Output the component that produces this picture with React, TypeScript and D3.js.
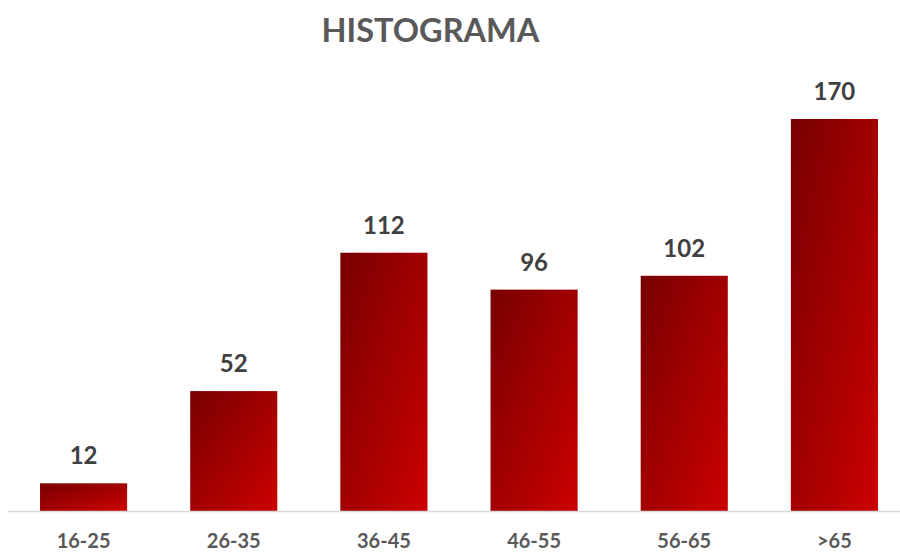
import React from "react";
import * as d3 from "d3";

const categories = ["16-25", "26-35", "36-45", "46-55", "56-65", ">65"];
const values = [12, 52, 112, 96, 102, 170];
const title = "HISTOGRAMA";

export default function App() {
  const W = 900, H = 553;
  const baseY = 511;
  const x = d3.scaleBand<string>().domain(categories).range([8.5, 909.5]).paddingInner(0.42).paddingOuter(0.21);
  const y = d3.scaleLinear().domain([0, 200]).range([baseY, baseY - 461.2]);
  const font = "Lato, 'Open Sans', sans-serif";
  return (
    <svg width={W} height={H} style={{ position: "absolute", left: 0, top: 0, background: "#fff" }}>
      <defs>
        <linearGradient id="barGrad" x1="0" y1="0" x2="1" y2="1">
          <stop offset="0%" stopColor="#780000" />
          <stop offset="100%" stopColor="#cc0000" />
        </linearGradient>
      </defs>
      <text x={430.5} y={42} textAnchor="middle" fontFamily={font} fontWeight="bold" fontSize={32.5} fill="#595959">{title}</text>
      {categories.map((c, i) => (
        <g key={c}>
          <rect x={x(c)} y={y(values[i])} width={x.bandwidth()} height={baseY - y(values[i])} fill="url(#barGrad)" />
          <text x={(x(c) as number) + x.bandwidth() / 2} y={y(values[i]) - 19} textAnchor="middle" fontFamily={font} fontWeight="bold" fontSize={24} fill="#404040">{values[i]}</text>
          <text x={(x(c) as number) + x.bandwidth() / 2} y={548} textAnchor="middle" fontFamily={font} fontWeight="bold" fontSize={20} fill="#595959">{c}</text>
        </g>
      ))}
      <line x1={8} x2={900} y1={baseY + 0.5} y2={baseY + 0.5} stroke="#d9d9d9" strokeWidth={1.5} />
    </svg>
  );
}
